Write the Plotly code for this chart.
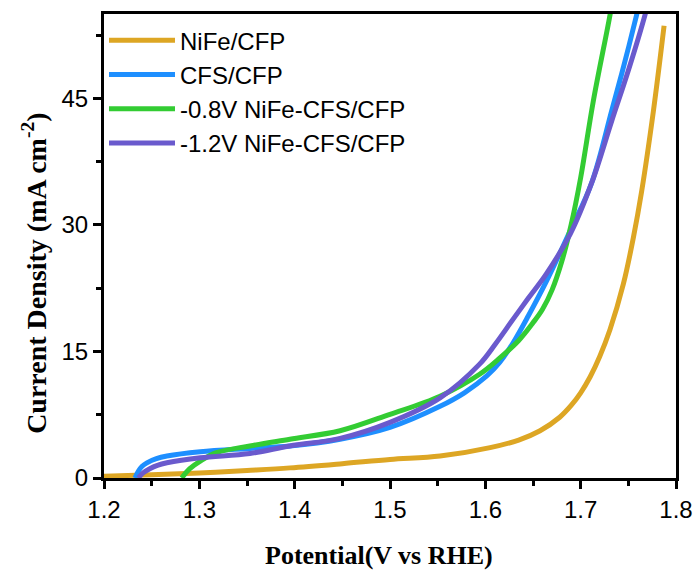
import plotly.graph_objects as go

# NiFe/CFP
v_nife = [1.2, 1.25, 1.30, 1.35, 1.395, 1.45, 1.50, 1.5525, 1.605, 1.635, 1.6574, 1.678, 1.69, 1.70, 1.71, 1.72, 1.7308, 1.7448, 1.7553, 1.764, 1.7763, 1.7875]
j_nife = [0.2, 0.4, 0.6, 0.9, 1.2, 1.7, 2.2, 2.6, 3.6, 4.5, 5.6, 7.2, 8.6, 10.1, 12.0, 14.4, 17.6, 23.0, 28.5, 34.0, 43.5, 53.6]

# CFS/CFP
v_cfs = [1.2325, 1.236, 1.240, 1.245, 1.255, 1.266, 1.301, 1.353, 1.395, 1.4476, 1.50, 1.5525, 1.578, 1.6015, 1.615, 1.629, 1.645, 1.664, 1.689, 1.7116, 1.7325, 1.7465, 1.7587, 1.762]
j_cfs = [0.0, 0.8, 1.4, 1.8, 2.3, 2.6, 3.1, 3.5, 3.8, 4.6, 6.0, 8.5, 10.1, 12.1, 13.7, 16.0, 19.2, 23.3, 29.3, 35.0, 43.5, 49.4, 54.9, 56.5]

# -0.8V NiFe-CFS/CFP
v_08 = [1.2815, 1.290, 1.301, 1.318, 1.353, 1.395, 1.4476, 1.50, 1.5525, 1.594, 1.615, 1.635, 1.65, 1.66, 1.67, 1.68, 1.69, 1.70, 1.7133, 1.7308, 1.733]
j_08 = [0.0, 1.1, 2.0, 3.0, 3.8, 4.6, 5.6, 7.55, 9.7, 12.3, 14.2, 16.3, 18.4, 20.0, 22.3, 25.6, 30.0, 35.6, 44.7, 54.9, 56.5]

# -1.2V NiFe-CFS/CFP
v_12 = [1.236, 1.241, 1.248, 1.256, 1.266, 1.301, 1.353, 1.395, 1.4476, 1.50, 1.5525, 1.594, 1.61, 1.629, 1.645, 1.664, 1.689, 1.7116, 1.7325, 1.75, 1.7675, 1.771]
j_12 = [0.0, 0.6, 1.1, 1.5, 1.8, 2.4, 2.9, 3.8, 4.7, 6.6, 9.5, 13.5, 15.8, 18.8, 21.3, 24.2, 28.9, 35.0, 42.3, 48.3, 54.9, 56.5]

names = ["NiFe/CFP", "CFS/CFP", "-0.8V NiFe-CFS/CFP", "-1.2V NiFe-CFS/CFP"]
colors = ["#DDA624", "#1E8FFF", "#33CC33", "#6A5ACD"]

x_ticks = [1.2, 1.3, 1.4, 1.5, 1.6, 1.7, 1.8]
x_labels = ["1.2", "1.3", "1.4", "1.5", "1.6", "1.7", "1.8"]
y_ticks = [0, 15, 30, 45]
y_labels = ["0", "15", "30", "45"]

x_title = "<b>Potential(V vs RHE)</b>"
y_title = "<b>Current Density (mA cm<sup>-2</sup>)</b>"

fig = go.Figure()
for xs, ys, nm, c in zip([v_nife, v_cfs, v_08, v_12], [j_nife, j_cfs, j_08, j_12], names, colors):
    fig.add_trace(go.Scatter(x=xs, y=ys, mode="lines", name=nm,
                             line=dict(color=c, width=5, shape="spline", smoothing=1.0)))

axis_common = dict(showline=True, linecolor="black", linewidth=3, mirror=True,
                   ticks="outside", ticklen=8, tickwidth=3, tickcolor="black",
                   showgrid=False, zeroline=False, automargin=False,
                   ticklabeloverflow="allow",
                   tickfont=dict(family="Liberation Sans, Arial", size=24, color="black"))

fig.update_xaxes(range=[1.2, 1.8], tickvals=x_ticks, ticktext=x_labels,
                 minor=dict(ticks="outside", ticklen=5, tickwidth=3, tickcolor="black", dtick=0.05),
                 **axis_common)
fig.update_yaxes(range=[0, 55], tickvals=y_ticks, ticktext=y_labels,
                 minor=dict(ticks="outside", ticklen=5, tickwidth=3, tickcolor="black", dtick=7.5),
                 **axis_common)

fig.add_annotation(text=x_title, xref="paper", yref="paper", x=0.481, y=-0.166,
                   xanchor="center", yanchor="middle", showarrow=False,
                   font=dict(family="Liberation Serif, Times New Roman", size=26, color="black"))
fig.add_annotation(text=y_title, xref="paper", yref="paper", x=-0.1206, y=0.44,
                   xanchor="center", yanchor="middle", textangle=-90, showarrow=False,
                   font=dict(family="Liberation Serif, Times New Roman", size=28, color="black"))

fig.update_layout(width=697, height=572, plot_bgcolor="white", paper_bgcolor="white",
                  margin=dict(l=104, r=21, t=14, b=94),
                  legend=dict(x=0.0, y=0.991, xanchor="left", yanchor="top", itemwidth=66,
                              bgcolor="rgba(0,0,0,0)", tracegroupgap=0,
                              font=dict(family="Liberation Sans, Arial", size=24, color="black")),
                  showlegend=True)

# remove the default 8px page margin so the figure fills the window exactly
fig.write_html("out.html", config={"displayModeBar": False},
               post_script="document.body.style.margin='0';document.body.style.overflow='hidden';")
